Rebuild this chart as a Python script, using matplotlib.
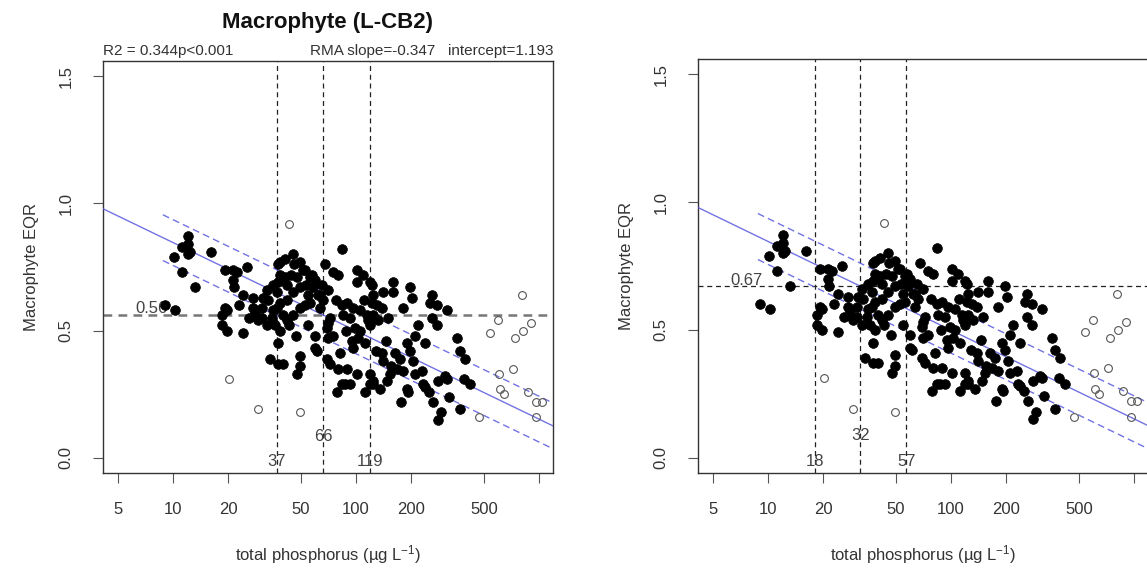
import numpy as np
import matplotlib
matplotlib.use("Agg")
import matplotlib.pyplot as plt

plt.rcParams['font.family'] = ['Liberation Sans', 'DejaVu Sans']
plt.rcParams['mathtext.fontset'] = 'custom'
plt.rcParams['mathtext.rm'] = 'Liberation Sans'
plt.rcParams['mathtext.it'] = 'Liberation Sans:italic'

# ---------------- data ----------------
tp_filled = [11.2, 12.1, 12.1, 12.4, 12.1, 10.1, 11.2, 13.2, 16.1, 19.2, 21.3, 22.4, 21.3, 21.5,
             25.4, 24.1, 27.3, 9.0, 10.3, 19.2, 18.5, 19.8, 18.5, 19.8, 24.1, 28.0, 30.6, 30.6,
             32.6, 32.6, 35.2, 37.0, 38.4, 40.9, 38.4, 40.9, 45.3, 49.4, 51.3, 47.6, 41.9, 45.3,
             38.4, 37.0, 39.9, 49.4, 56.1, 58.2, 63.6, 56.1, 49.4, 45.3, 41.9, 38.4, 67.7, 74.9,
             83.9, 79.8, 63.6, 72.1, 69.4, 74.9, 101, 109, 101, 119, 89.3, 96.2, 105, 92.7, 115,
             124, 119, 105, 122, 140, 159, 159, 197, 202, 260, 254, 278, 314, 260, 278, 139, 124,
             132, 150, 180, 218, 210, 238, 357, 370, 394, 190, 197, 205, 139, 140, 163, 174, 167,
             180, 153, 148, 119, 124, 135, 190, 192, 177, 230, 233, 238, 281, 306, 314, 263, 322,
             370, 292, 281, 389, 420, 37.5, 33.9, 37.5, 39.9, 49.4, 49.4, 47.6, 61.2, 69.4, 72.1,
             81.8, 96.2, 89.3, 101, 92.7, 83.9, 78.8, 112, 119, 124, 70.7, 95, 103, 59.7, 52.6,
             57.5, 62.0, 52.6, 122, 116, 79.8, 87, 27.3, 29.1, 34.6, 37.5, 37.5, 70.7, 83.9, 98.8,
             33, 35, 42, 44, 46, 53, 55, 60, 65, 66, 70, 43, 47, 55, 60, 85, 88, 110, 130, 112,
             128, 145, 155, 210, 250, 26, 23, 31, 36, 78]
eqr_filled = [0.83, 0.87, 0.84, 0.81, 0.80, 0.79, 0.73, 0.67, 0.81, 0.74, 0.74, 0.73, 0.70, 0.67,
              0.75, 0.64, 0.63, 0.60, 0.58, 0.59, 0.56, 0.58, 0.52, 0.50, 0.49, 0.57, 0.59, 0.55,
              0.52, 0.66, 0.68, 0.65, 0.77, 0.78, 0.72, 0.71, 0.80, 0.77, 0.74, 0.71, 0.68, 0.65,
              0.61, 0.59, 0.56, 0.67, 0.71, 0.67, 0.64, 0.61, 0.59, 0.56, 0.54, 0.50, 0.76, 0.73,
              0.82, 0.72, 0.59, 0.55, 0.51, 0.48, 0.74, 0.72, 0.69, 0.69, 0.61, 0.59, 0.58, 0.55,
              0.56, 0.64, 0.52, 0.50, 0.68, 0.65, 0.69, 0.65, 0.67, 0.63, 0.64, 0.61, 0.60, 0.58,
              0.55, 0.52, 0.59, 0.56, 0.54, 0.55, 0.59, 0.52, 0.48, 0.45, 0.47, 0.42, 0.39, 0.45,
              0.42, 0.38, 0.41, 0.38, 0.41, 0.39, 0.35, 0.34, 0.33, 0.30, 0.33, 0.29, 0.27, 0.27,
              0.26, 0.22, 0.34, 0.29, 0.28, 0.30, 0.32, 0.31, 0.22, 0.24, 0.19, 0.18, 0.15, 0.31,
              0.29, 0.45, 0.39, 0.37, 0.37, 0.40, 0.36, 0.33, 0.42, 0.39, 0.37, 0.41, 0.43, 0.35,
              0.33, 0.29, 0.29, 0.26, 0.26, 0.29, 0.30, 0.47, 0.46, 0.47, 0.43, 0.74, 0.72, 0.64,
              0.60, 0.61, 0.54, 0.35, 0.29, 0.59, 0.54, 0.55, 0.69, 0.76, 0.53, 0.60, 0.51,
              0.62, 0.58, 0.62, 0.72, 0.76, 0.68, 0.64, 0.70, 0.68, 0.62, 0.66, 0.52, 0.48, 0.52,
              0.48, 0.56, 0.50, 0.62, 0.60, 0.45, 0.42, 0.46, 0.36, 0.33, 0.26, 0.55, 0.60, 0.63,
              0.52, 0.62]
tp_open = [43.1, 20.2, 29.1, 49.4, 807, 597, 540, 739, 818, 904, 604, 721, 612, 644, 871, 964,
           1038, 964, 470]
eqr_open = [0.92, 0.31, 0.19, 0.18, 0.64, 0.54, 0.49, 0.47, 0.50, 0.53, 0.33, 0.35, 0.27, 0.25,
            0.26, 0.22, 0.22, 0.16, 0.16]

x_ticks = [5, 10, 20, 50, 100, 200, 500, 1000]
x_tick_labels = ['5', '10', '20', '50', '100', '200', '500', '']
y_ticks = [0.0, 0.5, 1.0, 1.5]
y_tick_labels = ['0.0', '0.5', '1.0', '1.5']

rma_slope = -0.347
rma_intercept = 1.193
band_offsets = [0.09, -0.09]
band_start_tp = 8.8

title_left = 'Macrophyte (L-CB2)'
stats_left = 'R2 = 0.344p<0.001'
stats_right = 'RMA slope=-0.347   intercept=1.193'

eqr_thresholds = [0.56, 0.67]
tp_boundaries = [[37, 66, 119], [18, 32, 57]]

# ---------------- figure ----------------
W, H = 1147, 572
fig = plt.figure(figsize=(W / 100, H / 100), dpi=100)

def px_axes(x0, y0, x1, y1):
    return fig.add_axes([x0 / W, 1 - y1 / H, (x1 - x0) / W, (y1 - y0) / H])

axes = [px_axes(103, 61, 553, 473), px_axes(698, 59, 1148, 473)]

xlim = (4.14, 1194)
ylim = (-0.06, 1.56)
blue = '#5a5ae0'

for i, ax in enumerate(axes):
    ax.set_xscale('log')
    ax.set_xlim(*xlim)
    ax.set_ylim(*ylim)

    # regression line and bands
    xl = np.logspace(np.log10(xlim[0]), np.log10(xlim[1]), 100)
    ax.plot(xl, rma_intercept + rma_slope * np.log10(xl), color=blue, lw=1.0, alpha=0.85, zorder=3)
    xb = np.logspace(np.log10(band_start_tp), np.log10(xlim[1]), 100)
    for off in band_offsets:
        ax.plot(xb, rma_intercept + off + rma_slope * np.log10(xb), color=blue, lw=1.0,
                alpha=0.85, dashes=(5, 3), zorder=3)

    # threshold lines
    thr = eqr_thresholds[i]
    if i == 0:
        ax.axhline(thr, color='#777777', lw=1.8, dashes=(3.5, 2.5), zorder=2)
    else:
        ax.axhline(thr, color='#222222', lw=0.9, dashes=(4, 3), zorder=2)
    ax.text(7.6, thr + 0.025, f'{thr:.2f}', fontsize=12, color='#444444', ha='center', va='center',
            zorder=4)
    for j, b in enumerate(tp_boundaries[i]):
        ax.axvline(b, color='#222222', lw=0.9, dashes=(4, 3), zorder=2)
        ty = 0.085 if j == 1 else -0.015
        ax.text(b, ty, str(b), fontsize=12, color='#444444', ha='center', va='center', zorder=4)

    # points
    ax.plot(tp_filled, eqr_filled, 'o', ms=7.0, mfc='black', mec='black', mew=0.5, zorder=5,
            linestyle='none')
    ax.plot(tp_open, eqr_open, 'o', ms=5.6, mfc='none', mec='#555555', mew=0.8, zorder=5,
            linestyle='none')

    # axes styling
    ax.set_xticks(x_ticks)
    ax.set_xticklabels(x_tick_labels)
    ax.minorticks_off()
    ax.xaxis.set_minor_locator(matplotlib.ticker.NullLocator())
    ax.set_yticks(y_ticks)
    ax.set_yticklabels(y_tick_labels, rotation=90, va='center')
    ax.tick_params(axis='both', direction='out', length=7, width=0.8, color='#555555',
                   labelsize=12, labelcolor='#333333')
    ax.tick_params(axis='x', pad=14)
    ax.tick_params(axis='y', pad=14)
    for s in ax.spines.values():
        s.set_color('#333333')
        s.set_linewidth(1.0)
    ax.set_xlabel('total phosphorus (µg L$^{-1}$)', fontsize=12, color='#333333', labelpad=19)
    ax.set_ylabel('Macrophyte EQR', fontsize=12, color='#333333', labelpad=14)

axes[0].set_title(title_left, fontsize=16, fontweight='bold', pad=24, color='#111111')
axes[0].text(0.0, 1.008, stats_left, transform=axes[0].transAxes, fontsize=11, ha='left',
             va='bottom', color='#333333')
axes[0].text(1.0, 1.008, stats_right, transform=axes[0].transAxes, fontsize=11, ha='right',
             va='bottom', color='#333333')

fig.savefig('out.png', dpi=100)
